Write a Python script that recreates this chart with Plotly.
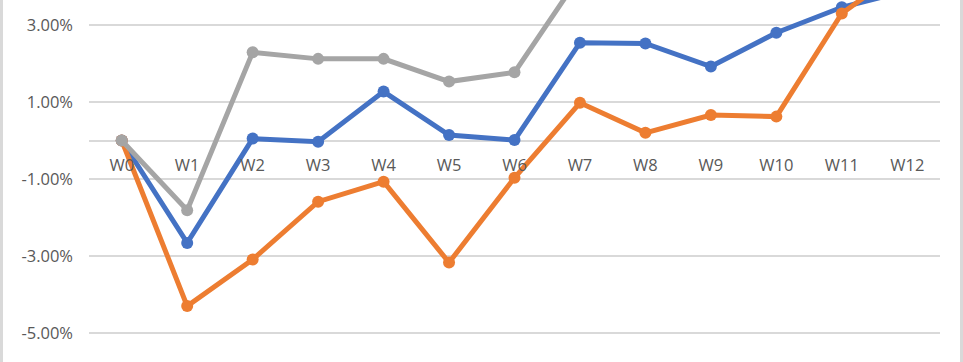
import plotly.graph_objects as go

weeks = ["W0", "W1", "W2", "W3", "W4", "W5", "W6", "W7", "W8", "W9", "W10", "W11", "W12"]
series_blue = [0.0, -2.66, 0.05, -0.03, 1.27, 0.14, 0.01, 2.54, 2.52, 1.92, 2.80, 3.46, 3.89]
series_orange = [0.0, -4.30, -3.09, -1.59, -1.07, -3.17, -0.97, 0.98, 0.20, 0.66, 0.62, 3.30, 4.53]
series_gray = [0.0, -1.81, 2.29, 2.12, 2.12, 1.53, 1.77, 4.28, 4.50, 4.40, 4.80, 5.20, 5.50]
y_ticks = [-5, -3, -1, 1, 3]
y_tick_text = ["-5.00%", "-3.00%", "-1.00%", "1.00%", "3.00%"]

W, H = 963, 362
font = dict(family="Open Sans", size=16.5, color="#595959")

fig = go.Figure()
for vals, col in [(series_blue, "#4472C4"), (series_orange, "#ED7D31"), (series_gray, "#A5A5A5")]:
    fig.add_trace(go.Scatter(
        x=list(range(len(weeks))), y=vals, mode="lines+markers",
        line=dict(color=col, width=5), marker=dict(color=col, size=12),
        showlegend=False, cliponaxis=True))

y_top, y_bot = 3.649, -5.753
zero_frac = (0 - y_bot) / (y_top - y_bot)

fig.update_layout(
    width=W, height=H, margin=dict(l=0, r=0, t=0, b=0),
    paper_bgcolor="white", plot_bgcolor="white", font=font,
    xaxis=dict(domain=[89 / W, 940 / W], range=[-0.5, len(weeks) - 0.5],
               tickvals=list(range(len(weeks))), ticktext=weeks,
               anchor="free", position=zero_frac, showgrid=False,
               showline=False, zeroline=False, ticks="", ticklabelstandoff=13,
               tickfont=font),
    yaxis=dict(domain=[0, 1], range=[y_bot, y_top], tickvals=y_ticks, ticktext=y_tick_text,
               showgrid=True, gridcolor="#D9D9D9", gridwidth=1.5,
               zeroline=True, zerolinecolor="#D9D9D9", zerolinewidth=1.5,
               showline=False, ticks="", ticklabelstandoff=15, tickfont=font),
    shapes=[
        dict(type="line", xref="paper", yref="paper", x0=1.5 / W, x1=1.5 / W, y0=0, y1=1,
             line=dict(color="#D9D9D9", width=3)),
        dict(type="line", xref="paper", yref="paper", x0=961.5 / W, x1=961.5 / W, y0=0, y1=1,
             line=dict(color="#D9D9D9", width=3)),
    ],
)

fig.write_html("out.html")
